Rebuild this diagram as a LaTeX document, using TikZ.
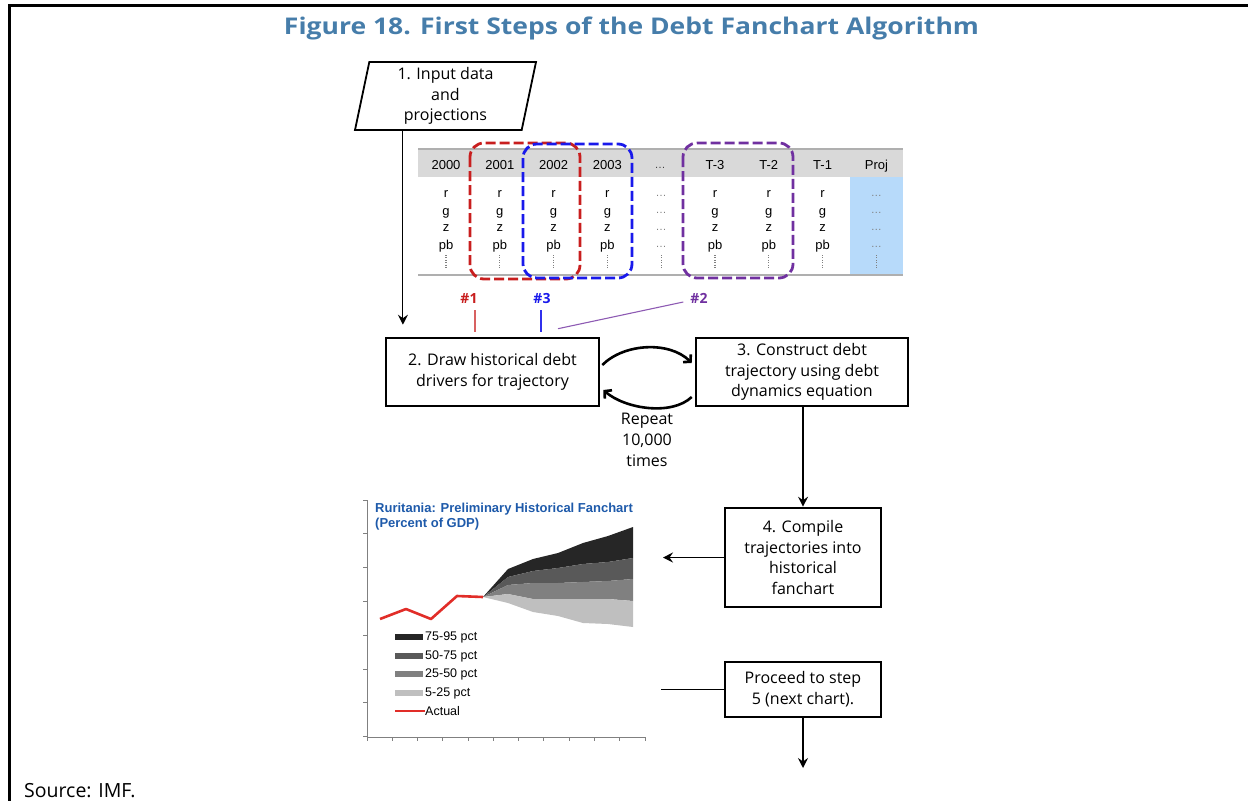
\documentclass[tikz,border=0pt]{standalone}
\usepackage{fontspec}
\setmainfont{Open Sans}
\newfontfamily\arialfont{Liberation Sans}
\usepackage{tikz}
\usetikzlibrary{arrows.meta, shapes.geometric, positioning}
\definecolor{titleblue}{RGB}{70,125,170}
\definecolor{hdrgray}{RGB}{217,217,217}
\definecolor{rulegray}{RGB}{175,175,175}
\definecolor{projblue}{RGB}{183,218,250}
\definecolor{selred}{RGB}{200,30,30}
\definecolor{selblue}{RGB}{25,25,235}
\definecolor{selpurple}{RGB}{112,48,160}
\definecolor{chartblue}{RGB}{30,90,170}
\definecolor{actred}{RGB}{225,45,40}
\definecolor{fanA}{RGB}{38,38,38}
\definecolor{fanB}{RGB}{89,89,89}
\definecolor{fanC}{RGB}{128,128,128}
\definecolor{fanD}{RGB}{191,191,191}

\begin{document}
\begin{tikzpicture}[x=1pt, y=1pt,
	box/.style={draw, line width=2.6pt, align=center, inner sep=0pt, font=\fontsize{16}{20.7}\selectfont},
	arr/.style={-{Stealth[length=10pt, width=10pt, inset=3.5pt]}, line width=1.2pt},
	loopy/.style={-{Straight Barb[length=5pt, width=11pt]}, line width=2.6pt},
	cell/.style={font=\arialfont\fontsize{13}{15}\selectfont, inner sep=0pt, anchor=base},
	dots/.style={font=\arialfont\fontsize{11}{12}\selectfont, text=gray, inner sep=0pt, anchor=base},
	vdots/.style={gray, line width=1.3pt, dash pattern=on 1pt off 1.4pt},
	sel/.style={line width=2.8pt, dash pattern=on 10pt off 4pt, rounded corners=14pt},
	hash/.style={font=\bfseries\fontsize{14}{16}\selectfont, inner sep=0pt},
	legtext/.style={font=\arialfont\fontsize{12.5}{14}\selectfont, anchor=west, inner sep=0pt}]
		\useasboundingbox (0,0) rectangle (1248,-801);
		\draw [line width=2.5pt] (1248,-5.5) -- (9.5,-5.5) -- (9.5,-801);
		\node [anchor=base, font=\bfseries\fontsize{23}{28}\selectfont, text=titleblue, inner sep=0pt] (title) at (631.5,-34.3) {\scalebox{1.153}[1]{Figure 18. First Steps of the Debt Fanchart Algorithm}};
		\node [anchor=base west, font=\fontsize{19.5}{22}\selectfont, inner sep=0pt] (source) at (24,-797) {Source: IMF.};

		\node [draw, line width=1.8pt, trapezium, trapezium left angle=76, trapezium right angle=104, trapezium stretches body=true, minimum width=181pt, minimum height=68pt, inner sep=0pt, align=center, font=\fontsize{16}{20.7}\selectfont] (input) at (445.5,-96) {1. Input data\\and\\projections};

		\fill [hdrgray] (418,-149) rectangle (903,-177);
		\fill [projblue] (850,-177) rectangle (903,-274);
		\draw [rulegray, line width=1.5pt] (418,-149) -- (903,-149);
		\draw [rulegray, line width=2.5pt] (418,-275) -- (903,-275);
		\foreach \lab [count=\i from 0] in {2000,2001,2002,2003,{},T-3,T-2,T-1,Proj}
			\node [cell] (h\i) at (446+53.8*\i, -169) {\lab};
		\node [dots, text=darkgray] (h4) at (660,-168) {\dots};
		\foreach \i in {0,1,2,3,5,6,7}{
			\foreach \v/\y in {r/197, g/215, z/231, pb/249}
				\node [cell] (\v\i) at (446+53.8*\i, -\y) {\v};
		}
		\foreach \i in {4,8}{
			\foreach \v/\y in {r/196, g/213, z/230, pb/247}
				\node [dots] (\v\i) at (446+53.8*\i, -\y) {\dots};
		}
		\foreach \i in {0,...,8}
			\draw [vdots] (446+53.8*\i, -255) -- (446+53.8*\i, -268);

		\draw [sel, selred] (470,-143) rectangle (580,-279);
		\draw [sel, selblue] (523,-144) rectangle (632,-278);
		\draw [sel, selpurple] (683,-143) rectangle (793,-278);
		\node [hash, text=selred] (n1) at (469,-298) {\#1};
		\node [hash, text=selblue] (n3) at (542,-298) {\#3};
		\node [hash, text=selpurple] (n2) at (699,-298) {\#2};

		\node [box, minimum width=213pt, minimum height=68pt] (drw) at (492.5,-372) {2. Draw historical debt\\drivers for trajectory};
		\node [box, minimum width=212pt, minimum height=68pt] (con) at (802,-372) {3. Construct debt\\trajectory using debt\\dynamics equation};
		\node [box, minimum width=156pt, minimum height=99pt] (comp) at (803,-557.5) {4. Compile\\trajectories into\\historical\\fanchart};
		\node [box, minimum width=156pt, minimum height=55pt] (nxt) at (803,-689.5) {Proceed to step\\5 (next chart).};
		\node [align=center, inner sep=0pt, font=\fontsize{16}{20.7}\selectfont] (rep) at (647,-440) {Repeat\\10,000\\times};

		\coordinate (inarr) at ([xshift=49pt]input.bottom left corner);
		\draw [arr, shorten >=12pt] (inarr) -- (inarr |- drw.north);
		\coordinate (t1) at ([xshift=6pt, yshift=-7pt]n1.south);
		\coordinate (t3) at ([xshift=-1pt, yshift=-7pt]n3.south);
		\draw [selred!70, line width=1.2pt, shorten >=5pt] (t1) -- (t1 |- drw.north);
		\draw [selblue!90, line width=1.2pt, shorten >=5pt] (t3) -- (t3 |- drw.north);
		\draw [selpurple!80, line width=1.1pt] ([xshift=-7pt, yshift=-4pt]n2.west) -- ([xshift=65.5pt, yshift=8pt]drw.north);

		\draw [loopy] ([xshift=2pt, yshift=7pt]drw.east) .. controls +(22,22) and +(-22,22) .. ([xshift=-3pt, yshift=9pt]con.west);
		\draw [loopy] ([xshift=-3pt, yshift=-25pt]con.west) .. controls +(-20,-19) and +(22,-19) .. ([xshift=3pt, yshift=-18pt]drw.east);
		\draw [arr] (comp.north |- con.south) -- (comp.north);
		\coordinate (fanend) at (663,-557.5);
		\draw [arr] (comp.west) -- (fanend);
		\coordinate (legend5) at (661,-689.5);
		\draw [line width=1.2pt] (nxt.west) -- (legend5);
		\coordinate (step5) at (803,-768);
		\draw [arr] (nxt.south) -- (step5);

		\fill [fanA] (483,-597) -- (508,-569) -- (533,-559) -- (558,-553) -- (583,-543) -- (608,-536) -- (633,-527) -- (633,-558) -- (608,-562) -- (583,-564) -- (558,-568) -- (533,-571) -- (508,-577) -- cycle;
		\fill [fanB] (483,-597) -- (508,-577) -- (533,-571) -- (558,-568) -- (583,-564) -- (608,-562) -- (633,-558) -- (633,-579) -- (608,-581) -- (583,-582) -- (558,-583) -- (533,-583) -- (508,-585) -- cycle;
		\fill [fanC] (483,-597) -- (508,-585) -- (533,-583) -- (558,-583) -- (583,-582) -- (608,-581) -- (633,-579) -- (633,-601) -- (608,-599) -- (583,-599) -- (558,-599) -- (533,-599) -- (508,-594) -- cycle;
		\fill [fanD] (483,-597) -- (508,-594) -- (533,-599) -- (558,-599) -- (583,-599) -- (608,-599) -- (633,-601) -- (633,-627) -- (608,-624) -- (583,-623) -- (558,-616) -- (533,-612) -- (508,-603) -- cycle;
		\draw [actred, line width=2.6pt, line join=round] (380,-619) -- (406,-609) -- (431,-619) -- (457,-596) -- (483,-597);
		\draw [gray, line width=0.9pt] (367,-500) -- (367,-737) -- (645,-737);
		\foreach \y in {500,533.8,...,737}
			\draw [gray, line width=0.9pt] (363,-\y) -- (367,-\y);
		\foreach \x in {367,392.27,...,646}
			\draw [gray, line width=0.9pt] (\x,-737) -- (\x,-741);
		\node [anchor=base west, font=\arialfont\bfseries\fontsize{13}{16}\selectfont, text=chartblue, inner sep=0pt] (ctitle) at (375,-512) {Ruritania: Preliminary Historical Fanchart};
		\node [anchor=base west, font=\arialfont\bfseries\fontsize{13}{16}\selectfont, text=chartblue, inner sep=0pt] (cunit) at (375,-527) {(Percent of GDP)};
		\foreach \c/\t/\y in {fanA/75-95 pct/637, fanB/50-75 pct/656, fanC/25-50 pct/674, fanD/5-25 pct/693}{
			\fill [\c] (395,-\y+3) rectangle (423,-\y-3);
			\node [legtext] (lg\y) at (425,-\y) {\t};
		}
		\draw [actred, line width=2.6pt] (395,-711) -- (425,-711);
		\node [legtext] (lgact) at (425,-711) {Actual};
	\end{tikzpicture}
\end{document}
